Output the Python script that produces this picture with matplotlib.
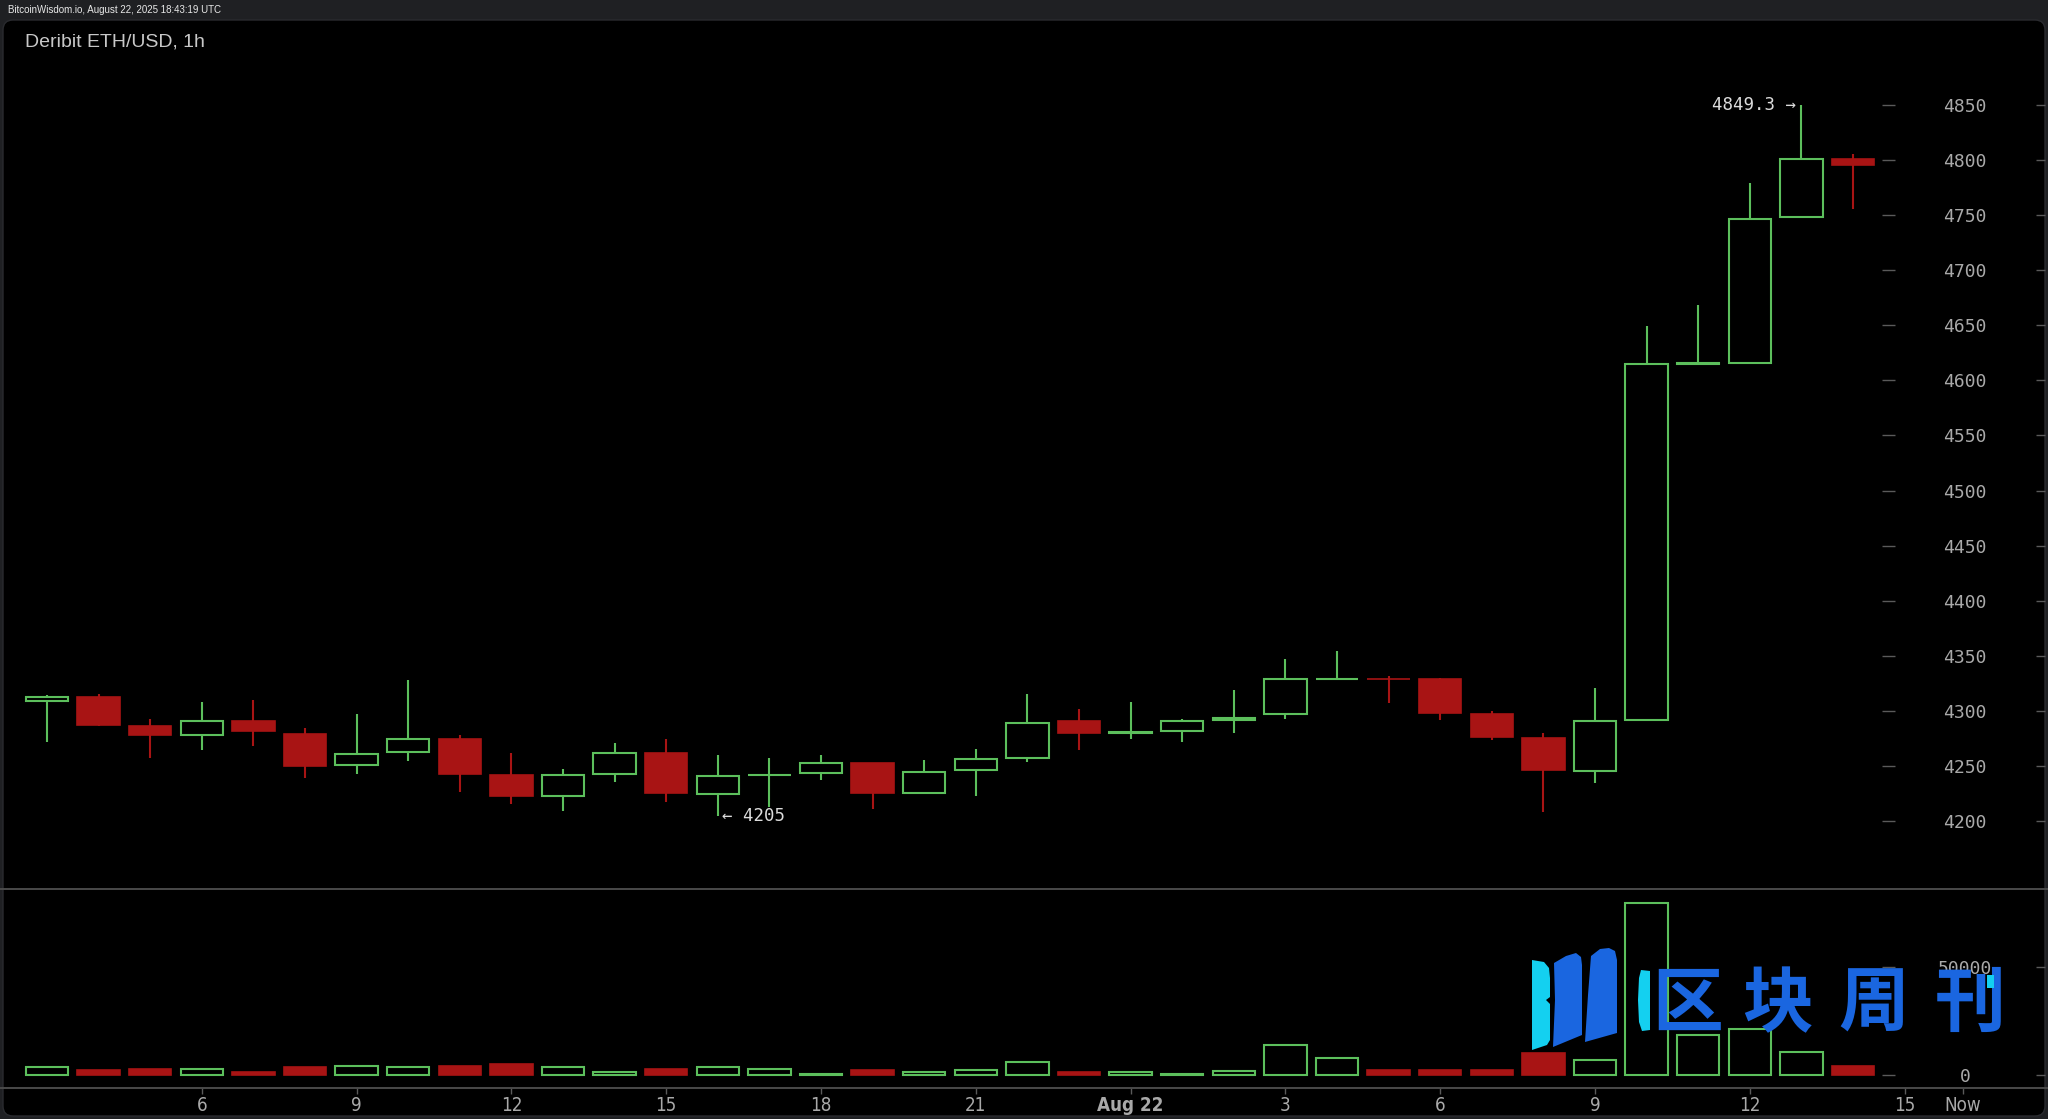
import matplotlib
matplotlib.use('Agg')
import matplotlib.pyplot as plt
import numpy as np
from matplotlib.patches import FancyBboxPatch, Polygon, Rectangle
from matplotlib.transforms import IdentityTransform
from matplotlib.lines import Line2D

# ---------------- data (Deribit ETH/USD, 1h, Aug 21 03:00 -> Aug 22 14:00 UTC) ----------------
hours = list(range(3, 24)) + list(range(0, 15))
opens = [4309.6, 4313.0, 4286.6, 4278.7, 4291.0, 4279.0, 4250.8, 4263.0, 4274.8, 4242.6,
         4223.0, 4243.5, 4261.7, 4224.5, 4242.0, 4244.0, 4252.6, 4226.0, 4246.6, 4258.0,
         4291.0, 4280.0, 4282.0, 4292.0, 4297.0, 4329.0, 4329.5, 4329.0, 4297.6, 4275.5,
         4245.7, 4292.0, 4615.0, 4616.0, 4748.0, 4800.5]
highs = [4315.0, 4316.0, 4292.6, 4308.0, 4310.0, 4285.0, 4297.5, 4328.0, 4278.0, 4262.0,
         4247.5, 4271.0, 4275.0, 4260.0, 4258.0, 4260.0, 4253.0, 4256.0, 4266.0, 4316.0,
         4302.0, 4308.0, 4292.6, 4319.0, 4347.0, 4355.0, 4332.0, 4330.0, 4300.6, 4280.0,
         4321.0, 4649.0, 4668.0, 4779.0, 4849.3, 4805.0]
lows = [4272.0, 4287.0, 4258.0, 4265.0, 4268.0, 4239.0, 4243.5, 4255.0, 4227.0, 4216.0,
        4209.6, 4236.0, 4218.0, 4205.0, 4213.0, 4237.5, 4211.0, 4226.0, 4223.0, 4253.5,
        4265.0, 4275.0, 4272.0, 4280.0, 4293.0, 4328.5, 4307.5, 4292.0, 4274.0, 4209.0,
        4235.0, 4291.0, 4614.5, 4615.5, 4747.5, 4755.0]
closes = [4313.0, 4287.5, 4278.0, 4291.0, 4281.7, 4250.5, 4261.4, 4274.8, 4243.5, 4223.0,
          4242.6, 4261.7, 4226.0, 4241.0, 4242.5, 4252.6, 4226.0, 4245.0, 4257.0, 4289.6,
          4280.0, 4281.0, 4291.0, 4293.5, 4329.0, 4329.5, 4329.0, 4298.0, 4276.5, 4247.0,
          4291.0, 4615.0, 4616.0, 4746.0, 4801.0, 4795.0]
volumes = [3500, 2100, 2900, 2700, 1500, 3650, 4250, 3500, 4250, 5200,
           3500, 1400, 2900, 3500, 2700, 600, 2300, 1500, 2100, 5800,
           1500, 1500, 600, 1850, 13700, 7850, 2150, 2150, 2150, 10300,
           7100, 79300, 18500, 21250, 10800, 4150]

price_ticks = [4200, 4250, 4300, 4350, 4400, 4450, 4500, 4550, 4600, 4650, 4700, 4750, 4800, 4850]
volume_ticks = [0, 50000]
xtick_pos = [3, 6, 9, 12, 15, 18, 21, 24, 27, 30, 33, 36]
xtick_labels = ['6', '9', '12', '15', '18', '21', 'Aug 22', '3', '6', '9', '12', '15']
now_pos = 37.13
watermark_chars = ['区', '块', '周', '刊']

# ---------------- style ----------------
W, H, DPI = 2048, 1119, 100
GREEN = '#5cbf5c'
RED = '#a81414'
TICK_C = '#5a5a5a'
LABEL_C = '#a9a9a9'
BG = '#1f2023'
WM_BLUE = '#1a66e0'
WM_CYAN = '#14d0f0'

fig = plt.figure(figsize=(W / DPI, H / DPI), dpi=DPI, facecolor=BG)


def fr(l, t, r, b):
    return [l / W, 1 - b / H, (r - l) / W, (b - t) / H]


panel = FancyBboxPatch((3, 3), 2042, 1096, boxstyle='round,pad=0,rounding_size=10',
                       transform=IdentityTransform(), facecolor='black',
                       edgecolor='#2a2b2f', lw=1, zorder=0)
fig.add_artist(panel)

x = np.arange(len(opens))
o = np.array(opens); c = np.array(closes); hi = np.array(highs); lo = np.array(lows)
vol = np.array(volumes)
up = c >= o
body_lo = np.minimum(o, c)
body_hi = np.maximum(o, c)
body_h = np.maximum(body_hi - body_lo, 0.4)
BW = 0.82
xl = (-0.8527, 38.72)

# ---------------- price panel ----------------
ax_p = fig.add_axes(fr(3, 22, 2045, 889))
ax_p.set_facecolor('none')
ax_p.set_xlim(*xl)
ax_p.set_ylim(4138.8, 4924.8)
for s in ax_p.spines.values():
    s.set_visible(False)

for m, col in ((up, GREEN), (~up, RED)):
    ax_p.vlines(x[m], body_hi[m], hi[m], color=col, lw=1.5, zorder=2)
    ax_p.vlines(x[m], lo[m], body_lo[m], color=col, lw=1.5, zorder=2)
ax_p.bar(x[up], body_h[up], bottom=body_lo[up], width=BW, facecolor='black',
         edgecolor=GREEN, lw=1.5, zorder=3)
ax_p.bar(x[~up], body_h[~up], bottom=body_lo[~up], width=BW, facecolor=RED,
         edgecolor=RED, lw=1.2, zorder=3)

imax = int(np.argmax(hi)); imin = int(np.argmin(lo))
ax_p.annotate(f'{hi[imax]:.1f} \u2192', xy=(x[imax], hi[imax]), xytext=(-4, 0),
              textcoords='offset points', ha='right', va='center',
              family='DejaVu Sans Mono', fontsize=12.5, color='#dcdcdc')
ax_p.annotate(f'\u2190 {lo[imin]:.0f}', xy=(x[imin], lo[imin]), xytext=(3, 0),
              textcoords='offset points', ha='left', va='center',
              family='DejaVu Sans Mono', fontsize=12.5, color='#dcdcdc')

ax_p.tick_params(axis='x', bottom=False, labelbottom=False)
ax_p.yaxis.tick_right()
ax_p.set_yticks(price_ticks)
ax_p.tick_params(axis='y', direction='in', length=6.5, width=1, color=TICK_C, labelright=False)

ax_pl = fig.add_axes(fr(1881, 22, 1882, 889), sharey=ax_p)
ax_pl.set_facecolor('none')
for s in ax_pl.spines.values():
    s.set_visible(False)
ax_pl.tick_params(axis='x', bottom=False, labelbottom=False)
ax_pl.yaxis.tick_right()
ax_pl.tick_params(axis='y', direction='out', length=9.4, width=1, color=TICK_C,
                  pad=50.4, labelsize=13, labelcolor=LABEL_C)
for lbl in ax_pl.get_yticklabels():
    lbl.set_ha('center'); lbl.set_family('DejaVu Sans Mono')

# ---------------- volume panel ----------------
ax_v = fig.add_axes(fr(3, 889, 2045, 1088))
ax_v.set_facecolor('none')
ax_v.set_xlim(*xl)
ax_v.set_ylim(-6002, 85876)
for s in ax_v.spines.values():
    s.set_visible(False)
ax_v.bar(x[up], vol[up], width=BW, facecolor='black', edgecolor=GREEN, lw=1.5, zorder=2)
ax_v.bar(x[~up], vol[~up], width=BW, facecolor=RED, edgecolor=RED, lw=1.2, zorder=2)
ax_v.set_xticks(xtick_pos + [now_pos])
ax_v.set_xticklabels(xtick_labels + ['Now'])
ax_v.tick_params(axis='x', direction='out', length=4.5, width=1, color=TICK_C,
                 labelsize=13.5, labelcolor=LABEL_C, pad=1)
for lbl in ax_v.get_xticklabels():
    lbl.set_family('DejaVu Sans')
    lbl.set_stretch('condensed')
    if lbl.get_text() == 'Aug 22':
        lbl.set_weight('bold')
ax_v.yaxis.tick_right()
ax_v.set_yticks(volume_ticks)
ax_v.tick_params(axis='y', direction='in', length=6.5, width=1, color=TICK_C, labelright=False)

ax_vl = fig.add_axes(fr(1881, 889, 1882, 1088), sharey=ax_v)
ax_vl.set_facecolor('none')
for s in ax_vl.spines.values():
    s.set_visible(False)
ax_vl.tick_params(axis='x', bottom=False, labelbottom=False)
ax_vl.yaxis.tick_right()
ax_vl.tick_params(axis='y', direction='out', length=9.4, width=1, color=TICK_C,
                  pad=50.4, labelsize=13, labelcolor=LABEL_C)
for lbl in ax_vl.get_yticklabels():
    lbl.set_ha('center'); lbl.set_family('DejaVu Sans Mono')

# ---------------- separators ----------------
for yy in (889, 1088):
    fig.add_artist(Line2D([0, W], [H - yy, H - yy], transform=IdentityTransform(),
                          color='#4a4a4a', lw=1.4, zorder=5))

# ---------------- header / title ----------------
fig.text(8 / W, 1 - 10 / H, 'BitcoinWisdom.io, August 22, 2025 18:43:19 UTC',
         family='Liberation Sans', fontsize=7, color='#e8e8e8', va='center', ha='left')
fig.text(25 / W, 1 - 42 / H, 'Deribit ETH/USD, 1h', family='Liberation Sans',
         fontsize=14, color='#c8c8c8', va='center', ha='left')

# ---------------- watermark (decoration) ----------------
def poly(pts, color):
    fig.add_artist(Polygon([(px, H - py) for px, py in pts], closed=True,
                           transform=IdentityTransform(), facecolor=color,
                           edgecolor='none', zorder=20))

poly([(1532, 960), (1544, 962), (1549, 968), (1550, 978), (1550, 997), (1546, 1000),
      (1550, 1004), (1550, 1040), (1547, 1045), (1532, 1050)], WM_CYAN)
poly([(1554, 963), (1566, 956), (1576, 953), (1581, 957), (1582, 965), (1582, 1035),
      (1553, 1047), (1555, 1000)], WM_BLUE)
poly([(1591, 956), (1600, 949), (1609, 948), (1615, 951), (1617, 960), (1617, 1033),
      (1585, 1042), (1588, 995)], WM_BLUE)
poly([(1641, 970), (1650, 971), (1650, 1030), (1642, 1031), (1639, 1022), (1638, 1000),
      (1639, 978)], WM_CYAN)

wm_centers = [1688, 1778, 1874, 1970]
for ch, cx in zip(watermark_chars, wm_centers):
    fig.text(cx / W, 1 - 1005 / H, ch, family=['Noto Sans CJK SC', 'DejaVu Sans'],
             fontsize=51, color=WM_BLUE, ha='center', va='center', weight='bold', zorder=20)
fig.add_artist(Rectangle((1987, H - 988), 7, 13, transform=IdentityTransform(),
                         facecolor=WM_CYAN, edgecolor='none', zorder=21))

fig.savefig('out.png', dpi=DPI, facecolor=BG)
